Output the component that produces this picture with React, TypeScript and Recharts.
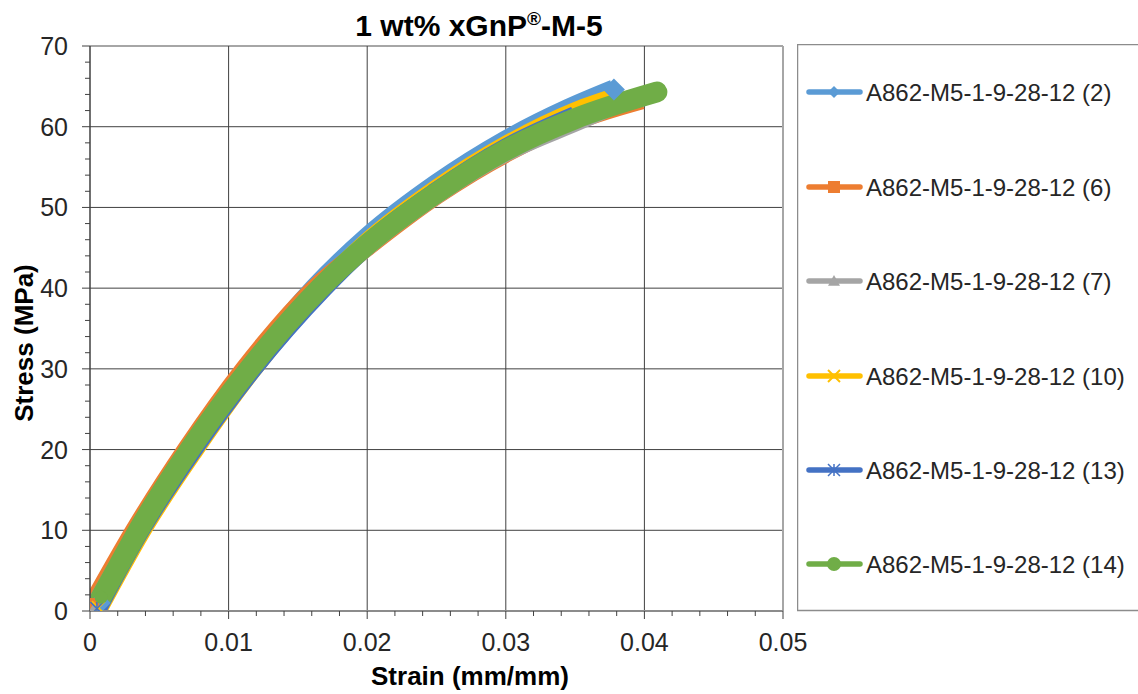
import React from "react";
import { LineChart, Line, XAxis, YAxis, ReferenceLine } from "recharts";

// strain (mm/mm) / stress (MPa) per specimen
const s2Strain = [0.0007, 0.0035, 0.0072, 0.0114, 0.0162, 0.02, 0.025, 0.03, 0.0345, 0.0378];
const s2Stress = [1.0, 9.6, 19.8, 30, 40, 46.3, 52.9, 58.3, 62.2, 64.6];

const s6Strain = [0.0002, 0.0032, 0.007, 0.0112, 0.0163, 0.02, 0.025, 0.03, 0.035, 0.0398];
const s6Stress = [0.8, 9.8, 20, 30, 40, 45.2, 51.6, 56.8, 60.8, 63.4];

const s7Strain = [0.0003, 0.0035, 0.0073, 0.0116, 0.0167, 0.02, 0.025, 0.03, 0.0355, 0.038];
const s7Stress = [0.3, 9.8, 20, 30, 40, 45.3, 51.7, 56.9, 61.0, 62.9];

const s10Strain = [0.0006, 0.0037, 0.0075, 0.0117, 0.0167, 0.02, 0.025, 0.03, 0.035, 0.0385];
const s10Stress = [0.4, 10, 20, 30, 40, 45.6, 52.2, 57.6, 61.8, 63.9];

const s13Strain = [0.0005, 0.0036, 0.0074, 0.0117, 0.0168, 0.02, 0.025, 0.03, 0.035];
const s13Stress = [0.3, 10, 20, 30, 40, 45.4, 51.9, 57.3, 61.3];

const s14Strain = [0.0008, 0.0021, 0.0035, 0.0072, 0.0115, 0.0166, 0.02, 0.025, 0.03, 0.035, 0.0409];
const s14Stress = [1.7, 5.7, 10, 20, 30, 40, 45.4, 51.8, 57.1, 61.0, 64.3];

const xMajor = [0, 0.01, 0.02, 0.03, 0.04, 0.05];
const xLabels = ["0", "0.01", "0.02", "0.03", "0.04", "0.05"];
const xMinor = [0, 0.002, 0.004, 0.006, 0.008, 0.01, 0.012, 0.014, 0.016, 0.018, 0.02, 0.022, 0.024,
  0.026, 0.028, 0.03, 0.032, 0.034, 0.036, 0.038, 0.04, 0.042, 0.044, 0.046, 0.048, 0.05];
const yMajor = [0, 10, 20, 30, 40, 50, 60, 70];
const yMinor = [0, 2, 4, 6, 8, 10, 12, 14, 16, 18, 20, 22, 24, 26, 28, 30, 32, 34, 36, 38, 40, 42, 44,
  46, 48, 50, 52, 54, 56, 58, 60, 62, 64, 66, 68, 70];

const rows = (xs: number[], ys: number[]) => xs.map((x, i) => ({ x, y: ys[i] }));

const series = [
  { name: "A862-M5-1-9-28-12 (2)", color: "#5B9BD5", marker: "diamond", data: rows(s2Strain, s2Stress) },
  { name: "A862-M5-1-9-28-12 (6)", color: "#ED7D31", marker: "square", data: rows(s6Strain, s6Stress) },
  { name: "A862-M5-1-9-28-12 (7)", color: "#A5A5A5", marker: "triangle", data: rows(s7Strain, s7Stress) },
  { name: "A862-M5-1-9-28-12 (10)", color: "#FFC000", marker: "x", data: rows(s10Strain, s10Stress) },
  { name: "A862-M5-1-9-28-12 (13)", color: "#4472C4", marker: "star", data: rows(s13Strain, s13Stress) },
  { name: "A862-M5-1-9-28-12 (14)", color: "#70AD47", marker: "circle", data: rows(s14Strain, s14Stress) },
];

const FONT = "'Liberation Sans', Arial, sans-serif";
const near = (list: number[], v: number) => list.findIndex((m) => Math.abs(m - v) < 1e-9);

function Marker({ kind, cx, cy, size, color }: any) {
  const r = size / 2;
  switch (kind) {
    case "diamond":
      return <polygon points={`${cx},${cy - r} ${cx + r},${cy} ${cx},${cy + r} ${cx - r},${cy}`} fill={color} />;
    case "square":
      return <rect x={cx - r} y={cy - r} width={size} height={size} fill={color} />;
    case "triangle":
      return <polygon points={`${cx},${cy - r} ${cx + r},${cy + r * 0.8} ${cx - r},${cy + r * 0.8}`} fill={color} />;
    case "x":
      return (
        <g stroke={color} strokeWidth={2}>
          <line x1={cx - r} y1={cy - r} x2={cx + r} y2={cy + r} />
          <line x1={cx - r} y1={cy + r} x2={cx + r} y2={cy - r} />
        </g>
      );
    case "star":
      return (
        <g stroke={color} strokeWidth={1.5}>
          <line x1={cx - r} y1={cy - r} x2={cx + r} y2={cy + r} />
          <line x1={cx - r} y1={cy + r} x2={cx + r} y2={cy - r} />
          <line x1={cx} y1={cy - r} x2={cx} y2={cy + r} />
        </g>
      );
    default:
      return <circle cx={cx} cy={cy} r={r} fill={color} />;
  }
}

function XTick({ x, y, payload }: any) {
  const i = near(xMajor, payload.value);
  return (
    <g>
      <line x1={x} x2={x} y1={y} y2={y + (i >= 0 ? 8 : 5)} stroke="#404040" strokeWidth={1} />
      {i >= 0 && (
        <text x={x} y={y + 40} textAnchor="middle" fontSize={25} fontFamily={FONT} fill="#262626">
          {xLabels[i]}
        </text>
      )}
    </g>
  );
}

function YTick({ x, y, payload }: any) {
  const i = near(yMajor, payload.value);
  return (
    <g>
      <line x1={x - (i >= 0 ? 8 : 5)} x2={x} y1={y} y2={y} stroke="#404040" strokeWidth={1} />
      {i >= 0 && (
        <text x={x - 22} y={y + 9} textAnchor="end" fontSize={25} fontFamily={FONT} fill="#262626">
          {yMajor[i]}
        </text>
      )}
    </g>
  );
}

function Legend() {
  const ys = [92, 187, 281, 376, 470, 564];
  return (
    <svg width={345} height={570} style={{ position: "absolute", left: 797, top: 44 }}>
      <rect x={0.5} y={0.5} width={360} height={566} fill="#fff" stroke="#8c8c8c" strokeWidth={1.5} />
      {series.map((s, i) => {
        const cy = ys[i] - 44;
        return (
          <g key={s.name}>
            <line x1={12} x2={63} y1={cy} y2={cy} stroke={s.color} strokeWidth={5.5} strokeLinecap="round" />
            <Marker kind={s.marker} cx={37} cy={cy} size={s.marker === "circle" ? 14 : 12} color={s.color} />
            <text x={69} y={cy + 8.5} fontSize={24} fontFamily={FONT} fill="#262626">
              {s.name}
            </text>
          </g>
        );
      })}
    </svg>
  );
}

export default function App() {
  return (
    <div style={{ position: "absolute", left: 0, top: 0, width: 1138, height: 694, background: "#fff" }}>
      <LineChart width={830} height={694} margin={{ top: 46, right: 47, left: 0, bottom: 23 }}>
        <XAxis
          type="number"
          dataKey="x"
          domain={[0, 0.05]}
          ticks={xMinor}
          interval={0}
          allowDataOverflow
          height={60}
          tickSize={0}
          tickMargin={0}
          tickLine={false}
          tick={<XTick />}
          axisLine={{ stroke: "#8c8c8c", strokeWidth: 2 }}
        />
        <YAxis
          type="number"
          dataKey="y"
          domain={[0, 70]}
          ticks={yMinor}
          interval={0}
          allowDataOverflow
          width={90}
          tickSize={0}
          tickMargin={0}
          tickLine={false}
          tick={<YTick />}
          axisLine={{ stroke: "#404040", strokeWidth: 1.5 }}
        />
        {yMajor.slice(1, -1).map((v) => (
          <ReferenceLine key={"h" + v} y={v} stroke="#404040" strokeWidth={1} />
        ))}
        <ReferenceLine y={70} stroke="#a6a6a6" strokeWidth={2} />
        {xMajor.slice(1, -1).map((v) => (
          <ReferenceLine key={"v" + v} x={v} stroke="#404040" strokeWidth={1} />
        ))}
        <ReferenceLine x={0.05} stroke="#a6a6a6" strokeWidth={2} />
        {series.map((s) => (
          <Line
            key={s.name}
            data={s.data}
            dataKey="y"
            name={s.name}
            type="monotone"
            stroke={s.color}
            strokeWidth={s.marker === "circle" ? 21 : 20}
            strokeLinecap={s.marker === "circle" ? "round" : "butt"}
            strokeLinejoin="round"
            isAnimationActive={false}
            dot={(p: any) =>
              p.index === 0 || (s.marker === "diamond" && p.index === s.data.length - 1) ? (
                <Marker key={s.name + p.index} kind={s.marker} cx={p.cx} cy={p.cy} size={s.marker === "diamond" ? 22 : 13} color={s.color} />
              ) : (
                <g key={s.name + p.index} />
              )
            }
          />
        ))}
      </LineChart>
      <svg width={795} height={694} style={{ position: "absolute", left: 0, top: 0, pointerEvents: "none" }}>
        <text x={479} y={36} textAnchor="middle" fontSize={30} fontWeight="bold" fontFamily={FONT} fill="#000">
          1 wt% xGnP
          <tspan fontSize={19} dy={-11}>®</tspan>
          <tspan dy={11}>-M-5</tspan>
        </text>
        <text x={470} y={685} textAnchor="middle" fontSize={26} fontWeight="bold" fontFamily={FONT} fill="#000">
          Strain (mm/mm)
        </text>
        <text
          x={33}
          y={343}
          transform="rotate(-90, 33, 343)"
          textAnchor="middle"
          fontSize={26}
          fontWeight="bold"
          fontFamily={FONT}
          fill="#000"
        >
          Stress (MPa)
        </text>
      </svg>
      <Legend />
    </div>
  );
}
